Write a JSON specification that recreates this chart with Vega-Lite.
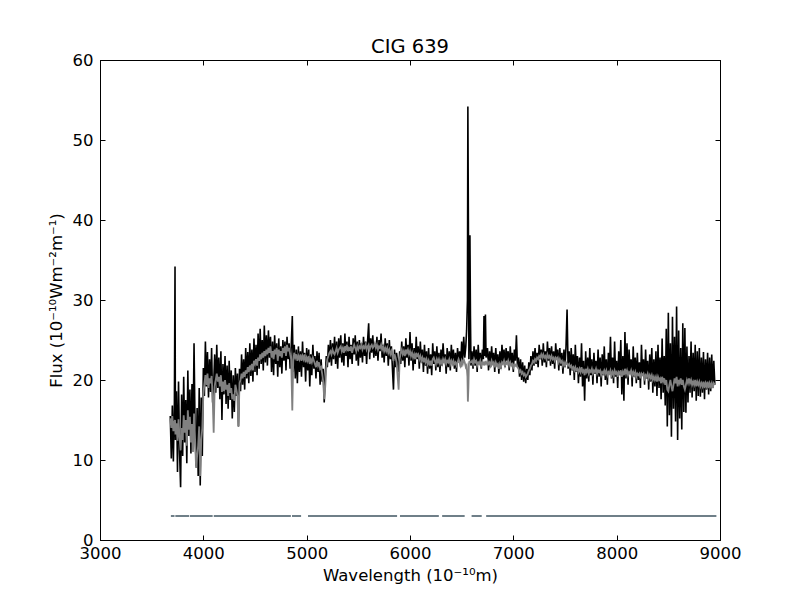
{
  "$schema": "https://vega.github.io/schema/vega-lite/v6.json",
  "width": 620,
  "height": 480,
  "autosize": {"type": "none"},
  "padding": {"left": 100, "top": 60, "right": 80, "bottom": 60},
  "title": {"text": "CIG 639", "font": "DejaVu Sans", "fontSize": 19.5, "fontWeight": "normal", "color": "black", "offset": -5},
  "datasets": {
    "spec": [
      {"w":3680,"o":15.5,"m":15.2},{"w":3690,"o":10.2,"m":14.0},{"w":3700,"o":16.8,"m":15.5},{"w":3710,"o":9.8,"m":13.6},
      {"w":3720,"o":17.2,"m":14.8},{"w":3726,"o":34.2,"m":15.0},{"w":3730,"o":12.5,"m":13.2},{"w":3740,"o":18.6,"m":14.6},
      {"w":3750,"o":8.5,"m":12.4},{"w":3760,"o":19.8,"m":15.1},{"w":3770,"o":11.0,"m":12.8},{"w":3780,"o":6.6,"m":11.2},
      {"w":3790,"o":18.2,"m":14.0},{"w":3800,"o":10.5,"m":12.5},{"w":3810,"o":20.4,"m":15.6},{"w":3820,"o":12.2,"m":13.4},
      {"w":3830,"o":17.5,"m":15.0},{"w":3840,"o":9.6,"m":11.8},{"w":3850,"o":21.2,"m":16.2},{"w":3860,"o":13.0,"m":13.8},
      {"w":3870,"o":18.8,"m":15.4},{"w":3880,"o":10.8,"m":12.2},{"w":3890,"o":19.5,"m":14.5},{"w":3900,"o":12.4,"m":11.0},
      {"w":3910,"o":24.6,"m":15.8},{"w":3920,"o":14.0,"m":12.6},{"w":3930,"o":9.2,"m":9.0},{"w":3940,"o":16.5,"m":10.5},
      {"w":3950,"o":8.0,"m":11.8},{"w":3960,"o":19.0,"m":14.2},{"w":3970,"o":6.8,"m":8.0},{"w":3980,"o":17.8,"m":12.5},
      {"w":3990,"o":10.5,"m":14.0},{"w":4000,"o":21.5,"m":18.2},{"w":4010,"o":18.0,"m":19.5},{"w":4020,"o":24.8,"m":20.6},
      {"w":4030,"o":19.2,"m":19.4},{"w":4040,"o":23.5,"m":20.8},{"w":4050,"o":17.8,"m":19.0},{"w":4060,"o":22.6,"m":20.2},
      {"w":4070,"o":18.5,"m":19.6},{"w":4080,"o":24.0,"m":20.5},{"w":4090,"o":17.2,"m":18.0},{"w":4100,"o":19.5,"m":13.4},
      {"w":4110,"o":23.2,"m":19.2},{"w":4120,"o":18.4,"m":20.0},{"w":4130,"o":24.4,"m":20.8},{"w":4140,"o":19.0,"m":19.8},
      {"w":4150,"o":22.8,"m":20.4},{"w":4160,"o":17.6,"m":19.2},{"w":4170,"o":23.6,"m":20.6},{"w":4180,"o":15.0,"m":18.5},
      {"w":4190,"o":22.0,"m":19.8},{"w":4200,"o":18.2,"m":18.6},{"w":4210,"o":23.0,"m":20.0},{"w":4220,"o":17.0,"m":18.8},
      {"w":4230,"o":21.8,"m":19.4},{"w":4240,"o":16.4,"m":18.0},{"w":4250,"o":22.4,"m":19.6},{"w":4260,"o":17.5,"m":18.4},
      {"w":4270,"o":21.2,"m":19.0},{"w":4280,"o":15.2,"m":17.6},{"w":4290,"o":20.6,"m":18.2},{"w":4300,"o":16.0,"m":17.4},
      {"w":4310,"o":21.5,"m":19.4},{"w":4320,"o":18.0,"m":18.8},{"w":4330,"o":20.8,"m":18.0},{"w":4340,"o":14.2,"m":14.2},
      {"w":4350,"o":21.4,"m":19.6},{"w":4360,"o":18.6,"m":20.0},{"w":4370,"o":23.2,"m":20.8},{"w":4380,"o":19.4,"m":20.2},
      {"w":4390,"o":22.6,"m":21.0},{"w":4400,"o":18.8,"m":20.4},{"w":4410,"o":24.0,"m":21.2},{"w":4420,"o":20.2,"m":20.8},
      {"w":4430,"o":23.5,"m":21.6},{"w":4440,"o":19.6,"m":21.0},{"w":4450,"o":24.6,"m":21.8},{"w":4460,"o":20.5,"m":21.4},
      {"w":4470,"o":23.8,"m":22.0},{"w":4480,"o":19.8,"m":21.2},{"w":4490,"o":25.2,"m":22.4},{"w":4500,"o":21.0,"m":22.0},
      {"w":4510,"o":24.4,"m":22.6},{"w":4520,"o":20.6,"m":21.8},{"w":4530,"o":25.8,"m":22.8},{"w":4540,"o":21.4,"m":22.4},
      {"w":4550,"o":26.4,"m":23.2},{"w":4560,"o":22.0,"m":22.6},{"w":4570,"o":25.0,"m":23.4},{"w":4580,"o":21.2,"m":22.8},
      {"w":4590,"o":26.8,"m":23.6},{"w":4600,"o":22.2,"m":23.0},{"w":4610,"o":25.6,"m":23.8},{"w":4620,"o":21.8,"m":23.2},
      {"w":4630,"o":26.2,"m":24.0},{"w":4640,"o":22.8,"m":23.4},{"w":4650,"o":25.4,"m":24.2},{"w":4660,"o":21.0,"m":22.8},
      {"w":4670,"o":24.8,"m":23.6},{"w":4680,"o":20.6,"m":22.6},{"w":4690,"o":25.6,"m":23.8},{"w":4700,"o":22.0,"m":23.2},
      {"w":4710,"o":24.6,"m":24.0},{"w":4720,"o":20.4,"m":22.4},{"w":4730,"o":25.2,"m":23.8},{"w":4740,"o":21.6,"m":23.0},
      {"w":4750,"o":24.2,"m":23.6},{"w":4760,"o":20.8,"m":22.8},{"w":4770,"o":25.0,"m":24.0},{"w":4780,"o":22.4,"m":23.4},
      {"w":4790,"o":24.8,"m":24.2},{"w":4800,"o":21.2,"m":23.0},{"w":4810,"o":25.4,"m":24.4},{"w":4820,"o":22.6,"m":23.6},
      {"w":4830,"o":24.6,"m":24.0},{"w":4840,"o":21.4,"m":23.2},{"w":4850,"o":24.0,"m":22.6},{"w":4861,"o":28.0,"m":16.2},
      {"w":4870,"o":21.0,"m":22.4},{"w":4880,"o":24.4,"m":23.4},{"w":4890,"o":20.2,"m":22.8},{"w":4900,"o":23.8,"m":23.2},
      {"w":4910,"o":19.6,"m":22.4},{"w":4920,"o":24.2,"m":23.0},{"w":4930,"o":21.0,"m":22.6},{"w":4940,"o":23.6,"m":23.2},
      {"w":4950,"o":20.4,"m":22.4},{"w":4960,"o":24.8,"m":23.0},{"w":4970,"o":21.6,"m":22.6},{"w":4980,"o":23.4,"m":23.2},
      {"w":4990,"o":19.8,"m":22.2},{"w":5000,"o":24.0,"m":22.8},{"w":5010,"o":21.2,"m":22.4},{"w":5020,"o":23.8,"m":23.0},
      {"w":5030,"o":19.2,"m":22.0},{"w":5040,"o":23.2,"m":22.6},{"w":5050,"o":20.6,"m":22.2},{"w":5060,"o":24.4,"m":22.8},
      {"w":5070,"o":21.4,"m":22.4},{"w":5080,"o":23.0,"m":22.0},{"w":5090,"o":20.2,"m":21.6},{"w":5100,"o":23.6,"m":22.4},
      {"w":5110,"o":21.0,"m":21.8},{"w":5120,"o":23.4,"m":22.2},{"w":5130,"o":19.4,"m":21.4},{"w":5140,"o":22.6,"m":21.6},
      {"w":5150,"o":19.8,"m":20.8},{"w":5160,"o":21.4,"m":19.8},{"w":5170,"o":17.2,"m":17.6},{"w":5180,"o":20.6,"m":19.2},
      {"w":5190,"o":23.0,"m":21.6},{"w":5200,"o":21.6,"m":22.6},{"w":5210,"o":24.4,"m":23.0},{"w":5220,"o":22.2,"m":23.4},
      {"w":5230,"o":25.0,"m":23.6},{"w":5240,"o":21.8,"m":23.2},{"w":5250,"o":24.6,"m":23.8},{"w":5260,"o":22.6,"m":23.4},
      {"w":5270,"o":25.4,"m":23.2},{"w":5280,"o":22.0,"m":23.6},{"w":5290,"o":24.8,"m":24.0},{"w":5300,"o":21.4,"m":23.4},
      {"w":5310,"o":25.2,"m":23.8},{"w":5320,"o":22.8,"m":24.0},{"w":5330,"o":25.6,"m":24.2},{"w":5340,"o":22.2,"m":23.6},
      {"w":5350,"o":24.6,"m":24.0},{"w":5360,"o":21.8,"m":23.4},{"w":5370,"o":25.8,"m":24.2},{"w":5380,"o":23.0,"m":23.8},
      {"w":5390,"o":24.8,"m":24.4},{"w":5400,"o":21.6,"m":23.6},{"w":5410,"o":25.4,"m":24.0},{"w":5420,"o":22.6,"m":23.8},
      {"w":5430,"o":24.4,"m":24.2},{"w":5440,"o":22.0,"m":23.4},{"w":5450,"o":25.2,"m":24.0},{"w":5460,"o":23.2,"m":24.4},
      {"w":5470,"o":25.6,"m":24.0},{"w":5480,"o":22.4,"m":23.6},{"w":5490,"o":24.8,"m":24.2},{"w":5500,"o":21.8,"m":23.8},
      {"w":5510,"o":25.0,"m":24.2},{"w":5520,"o":22.8,"m":24.0},{"w":5530,"o":24.6,"m":24.4},{"w":5540,"o":22.2,"m":23.8},
      {"w":5550,"o":25.4,"m":24.2},{"w":5560,"o":23.0,"m":24.0},{"w":5570,"o":24.8,"m":24.4},{"w":5580,"o":22.0,"m":23.8},
      {"w":5590,"o":25.0,"m":24.2},{"w":5600,"o":27.1,"m":24.4},{"w":5610,"o":22.6,"m":23.8},{"w":5620,"o":25.2,"m":24.2},
      {"w":5630,"o":23.4,"m":24.4},{"w":5640,"o":25.6,"m":24.0},{"w":5650,"o":22.8,"m":24.2},{"w":5660,"o":24.6,"m":24.6},
      {"w":5670,"o":23.0,"m":24.0},{"w":5680,"o":25.4,"m":24.4},{"w":5690,"o":22.4,"m":23.8},{"w":5700,"o":25.0,"m":24.2},
      {"w":5710,"o":23.6,"m":24.0},{"w":5720,"o":25.8,"m":24.4},{"w":5730,"o":22.8,"m":23.8},{"w":5740,"o":24.4,"m":24.2},
      {"w":5750,"o":22.2,"m":23.6},{"w":5760,"o":25.2,"m":24.0},{"w":5770,"o":23.0,"m":23.6},{"w":5780,"o":24.6,"m":24.0},
      {"w":5790,"o":21.8,"m":23.4},{"w":5800,"o":25.0,"m":23.8},{"w":5810,"o":22.6,"m":23.2},{"w":5820,"o":24.2,"m":23.6},
      {"w":5830,"o":21.4,"m":23.0},{"w":5840,"o":18.8,"m":22.4},{"w":5850,"o":23.8,"m":23.2},{"w":5860,"o":21.6,"m":22.8},
      {"w":5870,"o":23.4,"m":22.2},{"w":5890,"o":21.0,"m":18.8},{"w":5900,"o":23.6,"m":22.6},{"w":5910,"o":22.0,"m":23.4},
      {"w":5920,"o":24.8,"m":23.8},{"w":5930,"o":22.4,"m":23.2},{"w":5940,"o":24.2,"m":23.6},{"w":5950,"o":21.6,"m":23.0},
      {"w":5960,"o":25.2,"m":23.8},{"w":5970,"o":22.8,"m":23.4},{"w":5980,"o":24.4,"m":23.8},{"w":5990,"o":21.8,"m":23.2},
      {"w":6000,"o":26.0,"m":23.6},{"w":6010,"o":22.4,"m":23.0},{"w":6020,"o":24.6,"m":23.4},{"w":6030,"o":21.2,"m":22.8},
      {"w":6040,"o":24.0,"m":23.2},{"w":6050,"o":22.0,"m":22.6},{"w":6060,"o":25.4,"m":23.4},{"w":6070,"o":22.6,"m":23.0},
      {"w":6080,"o":24.2,"m":23.2},{"w":6090,"o":21.4,"m":22.6},{"w":6100,"o":24.8,"m":23.0},{"w":6110,"o":22.2,"m":22.4},
      {"w":6120,"o":23.8,"m":22.8},{"w":6130,"o":21.0,"m":22.2},{"w":6140,"o":24.4,"m":22.8},{"w":6150,"o":21.8,"m":22.2},
      {"w":6160,"o":23.6,"m":22.6},{"w":6170,"o":20.8,"m":22.0},{"w":6180,"o":24.0,"m":22.4},{"w":6190,"o":21.4,"m":21.8},
      {"w":6200,"o":23.2,"m":22.4},{"w":6210,"o":20.6,"m":21.8},{"w":6220,"o":24.6,"m":22.6},{"w":6230,"o":22.0,"m":22.8},
      {"w":6240,"o":23.6,"m":22.4},{"w":6250,"o":21.2,"m":22.0},{"w":6260,"o":24.2,"m":22.6},{"w":6270,"o":21.6,"m":22.2},
      {"w":6280,"o":23.4,"m":22.6},{"w":6290,"o":21.0,"m":22.0},{"w":6300,"o":23.8,"m":22.4},{"w":6310,"o":21.8,"m":22.0},
      {"w":6320,"o":24.6,"m":22.6},{"w":6330,"o":22.4,"m":22.2},{"w":6340,"o":23.2,"m":22.6},{"w":6350,"o":20.8,"m":22.0},
      {"w":6360,"o":24.0,"m":22.4},{"w":6370,"o":21.6,"m":22.2},{"w":6380,"o":23.6,"m":22.6},{"w":6390,"o":21.2,"m":22.0},
      {"w":6400,"o":24.4,"m":22.4},{"w":6410,"o":22.0,"m":22.0},{"w":6420,"o":23.8,"m":22.4},{"w":6430,"o":21.4,"m":22.0},
      {"w":6440,"o":23.4,"m":22.2},{"w":6450,"o":21.0,"m":21.8},{"w":6460,"o":24.0,"m":22.2},{"w":6470,"o":22.2,"m":22.6},
      {"w":6480,"o":23.6,"m":22.2},{"w":6490,"o":21.6,"m":21.8},{"w":6500,"o":24.8,"m":22.4},{"w":6510,"o":22.4,"m":22.0},
      {"w":6520,"o":25.4,"m":22.6},{"w":6530,"o":22.8,"m":22.2},{"w":6540,"o":24.2,"m":21.6},{"w":6548,"o":26.2,"m":21.8},
      {"w":6556,"o":30.0,"m":20.4},{"w":6560,"o":54.2,"m":17.3},{"w":6565,"o":40.0,"m":19.0},{"w":6570,"o":22.6,"m":22.0},
      {"w":6575,"o":24.8,"m":22.4},{"w":6580,"o":38.1,"m":22.2},{"w":6585,"o":28.0,"m":22.2},{"w":6590,"o":21.8,"m":22.2},
      {"w":6600,"o":23.6,"m":22.4},{"w":6610,"o":21.4,"m":22.0},{"w":6620,"o":24.2,"m":22.6},{"w":6630,"o":21.8,"m":22.2},
      {"w":6640,"o":23.8,"m":22.4},{"w":6650,"o":21.0,"m":21.8},{"w":6660,"o":24.4,"m":22.2},{"w":6670,"o":22.0,"m":22.0},
      {"w":6680,"o":23.4,"m":22.4},{"w":6690,"o":21.4,"m":21.8},{"w":6700,"o":23.8,"m":22.2},{"w":6710,"o":22.6,"m":22.0},
      {"w":6716,"o":28.0,"m":22.2},{"w":6722,"o":23.0,"m":22.0},{"w":6730,"o":28.2,"m":22.2},{"w":6736,"o":22.8,"m":22.0},
      {"w":6750,"o":24.0,"m":22.4},{"w":6760,"o":21.2,"m":22.0},{"w":6770,"o":23.6,"m":22.2},{"w":6780,"o":21.6,"m":21.8},
      {"w":6790,"o":24.2,"m":22.4},{"w":6800,"o":22.0,"m":22.0},{"w":6810,"o":23.4,"m":22.2},{"w":6820,"o":21.0,"m":21.6},
      {"w":6830,"o":24.0,"m":22.2},{"w":6840,"o":21.8,"m":21.8},{"w":6850,"o":23.2,"m":22.0},{"w":6860,"o":20.8,"m":21.4},
      {"w":6870,"o":23.6,"m":22.0},{"w":6880,"o":21.4,"m":21.6},{"w":6890,"o":24.4,"m":22.2},{"w":6900,"o":22.2,"m":22.0},
      {"w":6910,"o":23.8,"m":22.4},{"w":6920,"o":21.6,"m":21.8},{"w":6930,"o":24.0,"m":22.2},{"w":6940,"o":22.4,"m":22.0},
      {"w":6950,"o":23.6,"m":22.4},{"w":6960,"o":21.2,"m":21.8},{"w":6970,"o":24.2,"m":22.2},{"w":6980,"o":22.0,"m":21.8},
      {"w":6990,"o":23.4,"m":22.0},{"w":7000,"o":21.0,"m":21.6},{"w":7010,"o":23.8,"m":22.0},{"w":7020,"o":22.4,"m":21.8},
      {"w":7030,"o":25.6,"m":22.0},{"w":7040,"o":21.6,"m":21.6},{"w":7050,"o":22.8,"m":21.4},{"w":7060,"o":20.4,"m":21.0},
      {"w":7070,"o":22.6,"m":21.2},{"w":7080,"o":20.0,"m":20.8},{"w":7090,"o":22.2,"m":21.0},{"w":7100,"o":19.8,"m":20.6},
      {"w":7110,"o":21.8,"m":20.8},{"w":7120,"o":19.6,"m":20.4},{"w":7130,"o":21.4,"m":20.6},{"w":7140,"o":20.0,"m":20.8},
      {"w":7150,"o":22.2,"m":21.2},{"w":7160,"o":20.6,"m":21.4},{"w":7170,"o":23.0,"m":21.8},{"w":7180,"o":21.2,"m":22.0},
      {"w":7190,"o":23.6,"m":22.4},{"w":7200,"o":21.8,"m":22.2},{"w":7210,"o":24.0,"m":22.6},{"w":7220,"o":22.0,"m":22.4},
      {"w":7230,"o":23.4,"m":22.8},{"w":7240,"o":21.6,"m":22.6},{"w":7250,"o":24.4,"m":23.0},{"w":7260,"o":22.6,"m":22.8},
      {"w":7270,"o":23.8,"m":23.2},{"w":7280,"o":21.8,"m":22.8},{"w":7290,"o":24.6,"m":23.2},{"w":7300,"o":22.2,"m":22.8},
      {"w":7310,"o":23.6,"m":23.0},{"w":7320,"o":21.6,"m":22.6},{"w":7330,"o":24.8,"m":23.2},{"w":7340,"o":22.4,"m":22.8},
      {"w":7350,"o":24.0,"m":23.0},{"w":7360,"o":21.8,"m":22.6},{"w":7370,"o":24.2,"m":23.0},{"w":7380,"o":22.0,"m":22.6},
      {"w":7390,"o":23.6,"m":22.8},{"w":7400,"o":21.4,"m":22.4},{"w":7410,"o":24.6,"m":22.8},{"w":7420,"o":22.6,"m":22.6},
      {"w":7430,"o":23.8,"m":22.8},{"w":7440,"o":21.2,"m":22.2},{"w":7450,"o":24.0,"m":22.6},{"w":7460,"o":21.8,"m":22.2},
      {"w":7470,"o":23.4,"m":22.4},{"w":7480,"o":20.8,"m":21.8},{"w":7490,"o":23.8,"m":22.2},{"w":7500,"o":21.6,"m":21.8},
      {"w":7510,"o":24.2,"m":22.2},{"w":7520,"o":28.8,"m":22.0},{"w":7530,"o":21.4,"m":21.8},{"w":7540,"o":23.6,"m":22.0},
      {"w":7550,"o":20.6,"m":21.6},{"w":7560,"o":24.0,"m":21.8},{"w":7570,"o":21.2,"m":21.4},{"w":7580,"o":23.2,"m":21.6},
      {"w":7590,"o":20.0,"m":21.2},{"w":7600,"o":24.4,"m":21.6},{"w":7610,"o":21.0,"m":21.2},{"w":7620,"o":23.0,"m":21.4},
      {"w":7630,"o":19.6,"m":21.0},{"w":7640,"o":22.8,"m":21.4},{"w":7650,"o":20.4,"m":21.0},{"w":7660,"o":24.6,"m":21.6},
      {"w":7670,"o":19.2,"m":21.0},{"w":7680,"o":22.4,"m":21.2},{"w":7690,"o":17.4,"m":20.6},{"w":7700,"o":23.6,"m":21.4},
      {"w":7710,"o":20.2,"m":21.0},{"w":7720,"o":22.8,"m":21.4},{"w":7730,"o":19.8,"m":20.8},{"w":7740,"o":24.0,"m":21.2},
      {"w":7750,"o":20.6,"m":21.0},{"w":7760,"o":22.6,"m":21.4},{"w":7770,"o":19.4,"m":20.8},{"w":7780,"o":23.4,"m":21.2},
      {"w":7790,"o":20.8,"m":21.0},{"w":7800,"o":22.4,"m":21.4},{"w":7810,"o":19.6,"m":20.8},{"w":7820,"o":23.8,"m":21.2},
      {"w":7830,"o":20.4,"m":21.0},{"w":7840,"o":22.8,"m":21.2},{"w":7850,"o":19.2,"m":20.6},{"w":7860,"o":23.2,"m":21.0},
      {"w":7870,"o":20.6,"m":20.8},{"w":7880,"o":24.2,"m":21.2},{"w":7890,"o":20.0,"m":20.8},{"w":7900,"o":22.6,"m":21.2},
      {"w":7910,"o":19.4,"m":20.6},{"w":7920,"o":23.4,"m":21.0},{"w":7930,"o":20.8,"m":20.8},{"w":7940,"o":25.4,"m":21.2},
      {"w":7950,"o":20.2,"m":20.6},{"w":7960,"o":22.8,"m":21.0},{"w":7970,"o":19.6,"m":20.6},{"w":7980,"o":24.8,"m":21.2},
      {"w":7990,"o":20.4,"m":20.8},{"w":8000,"o":22.4,"m":21.0},{"w":8010,"o":19.0,"m":20.4},{"w":8020,"o":23.6,"m":21.0},
      {"w":8030,"o":20.6,"m":20.8},{"w":8040,"o":25.0,"m":21.2},{"w":8050,"o":18.2,"m":20.4},{"w":8060,"o":23.0,"m":21.0},
      {"w":8070,"o":17.4,"m":20.6},{"w":8080,"o":26.0,"m":21.4},{"w":8090,"o":20.2,"m":20.8},{"w":8100,"o":24.6,"m":21.2},
      {"w":8110,"o":19.4,"m":20.6},{"w":8120,"o":23.8,"m":21.0},{"w":8130,"o":20.8,"m":20.8},{"w":8140,"o":22.6,"m":21.2},
      {"w":8150,"o":19.2,"m":20.6},{"w":8160,"o":24.2,"m":21.0},{"w":8170,"o":20.4,"m":20.6},{"w":8180,"o":22.8,"m":21.0},
      {"w":8190,"o":19.6,"m":20.4},{"w":8200,"o":23.4,"m":20.8},{"w":8210,"o":20.0,"m":20.6},{"w":8220,"o":22.2,"m":20.8},
      {"w":8230,"o":19.0,"m":20.2},{"w":8240,"o":24.4,"m":20.8},{"w":8250,"o":20.6,"m":20.6},{"w":8260,"o":22.6,"m":20.8},
      {"w":8270,"o":19.4,"m":20.2},{"w":8280,"o":23.8,"m":20.6},{"w":8290,"o":20.2,"m":20.4},{"w":8300,"o":22.4,"m":20.8},
      {"w":8310,"o":18.8,"m":20.2},{"w":8320,"o":23.2,"m":20.6},{"w":8330,"o":19.8,"m":20.2},{"w":8340,"o":24.0,"m":20.6},
      {"w":8350,"o":18.4,"m":20.0},{"w":8360,"o":22.6,"m":20.4},{"w":8370,"o":19.2,"m":20.0},{"w":8380,"o":23.6,"m":20.4},
      {"w":8390,"o":18.0,"m":19.8},{"w":8400,"o":24.4,"m":20.4},{"w":8410,"o":19.0,"m":20.0},{"w":8420,"o":22.8,"m":20.2},
      {"w":8430,"o":17.6,"m":19.6},{"w":8440,"o":25.2,"m":20.4},{"w":8450,"o":18.4,"m":19.8},{"w":8460,"o":23.0,"m":20.2},
      {"w":8470,"o":16.8,"m":19.4},{"w":8480,"o":26.4,"m":20.0},{"w":8490,"o":14.2,"m":18.8},{"w":8500,"o":28.4,"m":18.6},
      {"w":8510,"o":15.6,"m":19.4},{"w":8520,"o":24.6,"m":20.0},{"w":8530,"o":12.9,"m":19.2},{"w":8540,"o":27.9,"m":18.6},
      {"w":8550,"o":16.4,"m":19.4},{"w":8560,"o":25.4,"m":20.2},{"w":8570,"o":14.8,"m":19.6},{"w":8580,"o":29.2,"m":20.4},
      {"w":8590,"o":12.5,"m":19.2},{"w":8600,"o":26.2,"m":20.0},{"w":8610,"o":15.2,"m":19.6},{"w":8620,"o":24.0,"m":20.2},
      {"w":8630,"o":13.8,"m":19.4},{"w":8640,"o":27.1,"m":20.0},{"w":8650,"o":16.0,"m":19.2},{"w":8660,"o":26.5,"m":18.8},
      {"w":8670,"o":15.9,"m":19.4},{"w":8680,"o":24.2,"m":20.0},{"w":8690,"o":17.2,"m":19.6},{"w":8700,"o":23.0,"m":20.2},
      {"w":8710,"o":18.4,"m":19.6},{"w":8720,"o":24.8,"m":20.0},{"w":8730,"o":17.8,"m":19.4},{"w":8740,"o":23.4,"m":19.8},
      {"w":8750,"o":18.6,"m":19.4},{"w":8760,"o":24.4,"m":20.0},{"w":8770,"o":17.4,"m":19.2},{"w":8780,"o":23.6,"m":19.8},
      {"w":8790,"o":18.0,"m":19.4},{"w":8800,"o":24.0,"m":19.8},{"w":8810,"o":17.9,"m":19.2},{"w":8820,"o":22.8,"m":19.6},
      {"w":8830,"o":18.4,"m":19.2},{"w":8840,"o":23.5,"m":19.8},{"w":8850,"o":17.6,"m":19.0},{"w":8860,"o":22.6,"m":19.6},
      {"w":8870,"o":18.8,"m":19.2},{"w":8880,"o":23.4,"m":19.8},{"w":8890,"o":18.2,"m":19.0},{"w":8900,"o":22.8,"m":19.6},
      {"w":8910,"o":18.6,"m":19.2},{"w":8920,"o":23.2,"m":19.6},{"w":8930,"o":19.0,"m":19.0},{"w":8940,"o":22.4,"m":19.6},
      {"w":8950,"o":19.4,"m":19.4}
    ],
    "mask": [
      {"w":3686,"f":3,"seg":1},{"w":3721,"f":3,"seg":1},
      {"w":3729,"f":3,"seg":2},{"w":3862,"f":3,"seg":2},
      {"w":3869,"f":3,"seg":3},{"w":4090,"f":3,"seg":3},
      {"w":4101,"f":3,"seg":4},{"w":4847,"f":3,"seg":4},
      {"w":4858,"f":3,"seg":5},{"w":4946,"f":3,"seg":5},
      {"w":5013,"f":3,"seg":6},{"w":5875,"f":3,"seg":6},
      {"w":5903,"f":3,"seg":7},{"w":6279,"f":3,"seg":7},
      {"w":6311,"f":3,"seg":8},{"w":6529,"f":3,"seg":8},
      {"w":6596,"f":3,"seg":9},{"w":6694,"f":3,"seg":9},
      {"w":6737,"f":3,"seg":10},{"w":8965,"f":3,"seg":10}
    ]
  },
  "layer": [
    {
      "data": {"name": "spec"},
      "mark": {"type": "line", "color": "black", "strokeWidth": 1.6},
      "encoding": {
        "x": {
          "field": "w", "type": "quantitative",
          "scale": {"domain": [3000, 9000], "nice": false, "zero": false},
          "axis": {"orient": "bottom", "values": [3000, 4000, 5000, 6000, 7000, 8000, 9000], "format": "d",
                   "title": "Wavelength (10⁻¹⁰m)", "titlePadding": 6, "labelPadding": 10}
        },
        "y": {
          "field": "o", "type": "quantitative",
          "scale": {"domain": [0, 60], "nice": false},
          "axis": {"orient": "left", "values": [0, 10, 20, 30, 40, 50, 60], "format": "d",
                   "title": "Flux (10⁻¹⁰Wm⁻²m⁻¹)", "titlePadding": 8, "labelPadding": 12}
        }
      }
    },
    {
      "data": {"name": "spec"},
      "mark": {"type": "line", "color": "#808080", "strokeWidth": 1.8},
      "encoding": {
        "x": {
          "field": "w", "type": "quantitative",
          "scale": {"domain": [3000, 9000], "nice": false, "zero": false},
          "axis": {"orient": "top", "values": [3000, 4000, 5000, 6000, 7000, 8000, 9000], "labels": false, "title": null}
        },
        "y": {
          "field": "m", "type": "quantitative",
          "scale": {"domain": [0, 60], "nice": false},
          "axis": {"orient": "right", "values": [0, 10, 20, 30, 40, 50, 60], "labels": false, "title": null}
        }
      }
    },
    {
      "data": {"name": "mask"},
      "mark": {"type": "line", "color": "#6f7f88", "strokeWidth": 2},
      "encoding": {
        "x": {"field": "w", "type": "quantitative", "axis": null},
        "y": {"field": "f", "type": "quantitative", "axis": null},
        "detail": {"field": "seg", "type": "nominal"}
      }
    }
  ],
  "resolve": {"axis": {"x": "independent", "y": "independent"}},
  "config": {
    "view": {"stroke": "black", "strokeWidth": 1},
    "axis": {
      "grid": false,
      "domainColor": "black",
      "tickColor": "black",
      "tickSize": -5,
      "labelFlush": false,
      "labelOverlap": false,
      "labelFont": "DejaVu Sans",
      "labelFontSize": 16.5,
      "labelColor": "black",
      "titleFont": "DejaVu Sans",
      "titleFontSize": 16.5,
      "titleFontWeight": "normal",
      "titleColor": "black"
    }
  }
}
